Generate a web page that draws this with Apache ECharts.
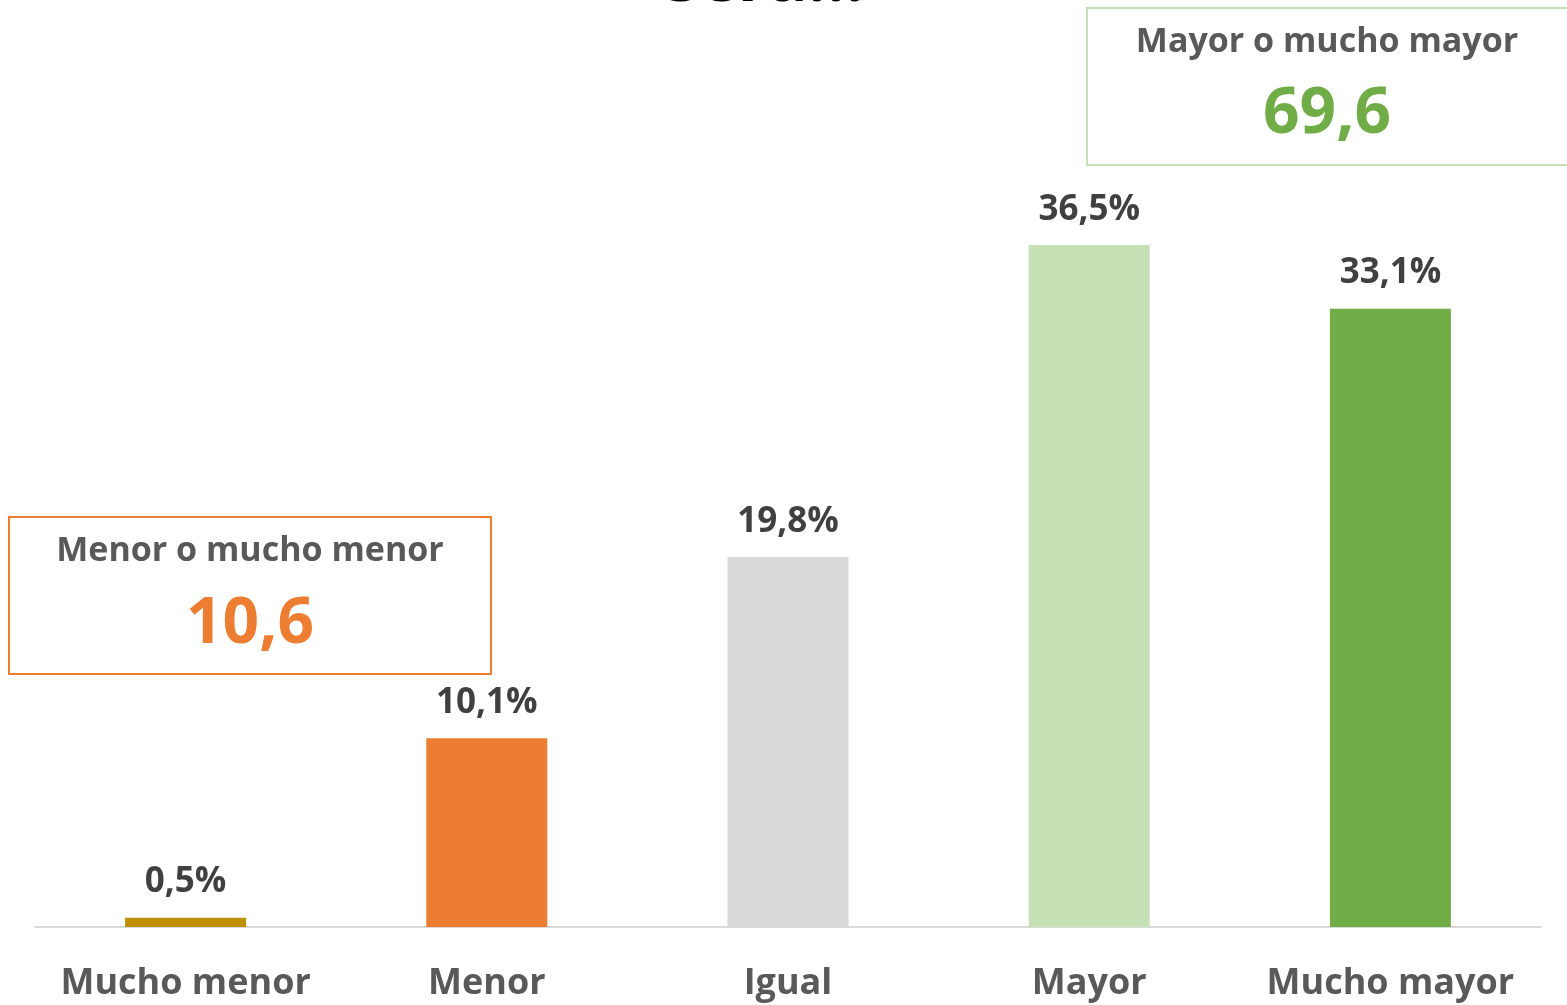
<!DOCTYPE html>
<html><head><meta charset="utf-8">
<script src="https://cdn.jsdelivr.net/npm/echarts@6/dist/echarts.min.js"></script>
<style>html,body{margin:0;padding:0;background:#fff}#c{width:1567px;height:1005px}</style>
</head><body><div id="c"></div>
<script>
const categories = ['Mucho menor', 'Menor', 'Igual', 'Mayor', 'Mucho mayor'];
const values = [0.5, 10.1, 19.8, 36.5, 33.1];
const barColors = ['#bf9000', '#ed7d31', '#d9d9d9', '#c5e0b4', '#70ad47'];
const lowLabel = 'Menor o mucho menor';
const lowTotal = '10,6';
const highLabel = 'Mayor o mucho mayor';
const highTotal = '69,6';
const titleText = 'será...';

const FONT = '"Open Sans", "Noto Sans", sans-serif';
function t(text, x, y, size, color) {
  return { text, left: x, top: y, textAlign: 'center', textVerticalAlign: 'middle', padding: 0,
    textStyle: { color, fontFamily: FONT, fontWeight: 'bold', fontSize: size } };
}
const chart = echarts.init(document.getElementById('c'));
chart.setOption({
  animation: false,
  backgroundColor: '#fff',
  title: [
    t(titleText, 765, -18, 66, '#000'),
    t(highLabel, 1327, 42, 34, '#595959'),
    t(highTotal, 1327, 115, 64, '#70ad47'),
    t(lowLabel, 250, 551, 34, '#595959'),
    t(lowTotal, 250, 625, 64, '#ed7d31')
  ],
  grid: { left: 35, right: 26, top: 105, bottom: 78 },
  xAxis: {
    type: 'category', data: categories,
    axisLine: { lineStyle: { color: '#d9d9d9', width: 2 } },
    axisTick: { show: false },
    axisLabel: { interval: 0, color: '#595959', fontFamily: FONT, fontWeight: 'bold', fontSize: 36, margin: 39 }
  },
  yAxis: { type: 'value', min: 0, max: 44, show: true,
    axisLine: { show: false }, axisTick: { show: false }, axisLabel: { show: false }, splitLine: { show: false } },
  series: [{
    type: 'bar', barWidth: 121,
    data: values.map((v, i) => ({ value: v, itemStyle: { color: barColors[i] } })),
    label: {
      show: true, position: ['50%', -18], align: 'center', verticalAlign: 'bottom',
      color: '#404040', fontFamily: FONT, fontWeight: 'bold', fontSize: 35,
      formatter: p => p.value.toFixed(1).replace('.', ',') + '%'
    }
  }],
  graphic: [
    { type: 'rect', shape: { x: 1087, y: 8, width: 500, height: 157 }, style: { fill: 'none', stroke: '#c5e0b4', lineWidth: 2 } },
    { type: 'rect', shape: { x: 9, y: 517, width: 482, height: 157 }, style: { fill: 'none', stroke: '#ed7d31', lineWidth: 2 } }
  ]
});
</script></body></html>
